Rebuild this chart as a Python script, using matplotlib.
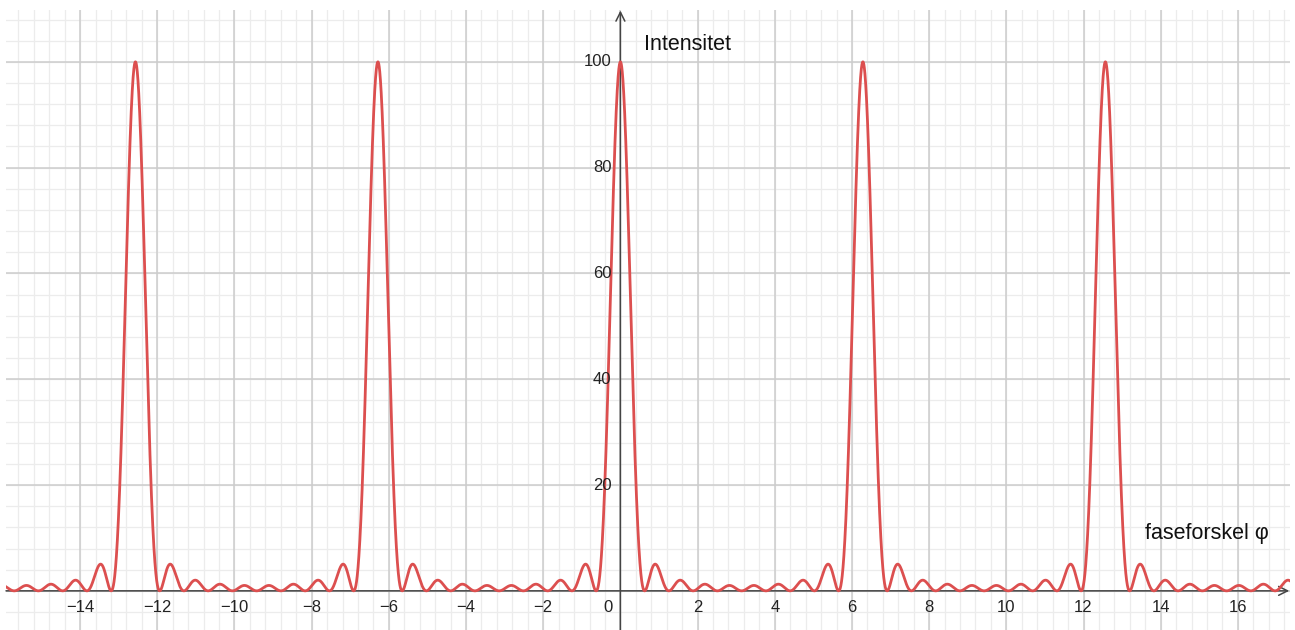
import matplotlib
matplotlib.use('Agg')
import matplotlib.pyplot as plt
import numpy as np

# grating with N slits: I = sin^2(N phi/2) / sin^2(phi/2), max N^2 = 100
N_SLITS = 10
x_ticks = [-14, -12, -10, -8, -6, -4, -2, 0, 2, 4, 6, 8, 10, 12, 14, 16]
y_ticks = [20, 40, 60, 80, 100]
x_label = "faseforskel φ"
y_label = "Intensitet"

x_min, x_max = -15.92, 17.35
y_min, y_max = -7.4, 109.8

phi = np.linspace(x_min, x_max, 40001)
num = np.sin(N_SLITS * phi / 2) ** 2
den = np.sin(phi / 2) ** 2
intensity = np.divide(num, den, out=np.full_like(phi, N_SLITS ** 2), where=den > 1e-12)

plt.rcParams["font.family"] = ["Liberation Sans", "DejaVu Sans"]
fig = plt.figure(figsize=(12.95, 6.3), dpi=100)
ax = fig.add_axes([6 / 1295, 0, 1284 / 1295, 620 / 630])
ax.set_xlim(x_min, x_max)
ax.set_ylim(y_min, y_max)
for s in ax.spines.values():
    s.set_visible(False)
ax.set_xticks([])
ax.set_yticks([])

# grid: minor and major
for xv in np.arange(-15.6, x_max, 0.4):
    ax.axvline(xv, color='#ececec', lw=0.9, zorder=0)
for yv in np.arange(-4, y_max, 4):
    ax.axhline(yv, color='#ececec', lw=0.9, zorder=0)
for xv in np.arange(-14, x_max, 2):
    ax.axvline(xv, color='#cccccc', lw=1.1, zorder=1)
for yv in np.arange(0, y_max, 20):
    ax.axhline(yv, color='#cccccc', lw=1.1, zorder=1)

# axes with arrows
ax.annotate('', xy=(x_max - 0.02, 0), xytext=(x_min, 0),
            arrowprops=dict(arrowstyle='->', color='#444444', lw=1.1,
                            mutation_scale=16, shrinkA=0, shrinkB=0), zorder=2)
ax.annotate('', xy=(0, y_max - 0.1), xytext=(0, y_min),
            arrowprops=dict(arrowstyle='->', color='#444444', lw=1.1,
                            mutation_scale=16, shrinkA=0, shrinkB=0), zorder=2)

ax.plot(phi, intensity, color='#dc4f4f', lw=2.0, zorder=3)

for xt in x_ticks:
    if xt == 0:
        ax.text(-0.33, -3.1, "0", ha='center', va='center', fontsize=12, color='#222222')
    else:
        ax.text(xt, -3.1, f"{xt}".replace('-', '\u2212'), ha='center', va='center',
                fontsize=12, color='#222222')
for yt in y_ticks:
    ax.text(-0.23, yt, str(yt), ha='right', va='center', fontsize=12, color='#222222')

ax.text(0.62, 103.3, y_label, ha='left', va='center', fontsize=15.5, color='#111111')
ax.text(13.6, 10.8, x_label, ha='left', va='center', fontsize=15.5, color='#111111')

fig.savefig("out.png", dpi=100, facecolor='white')
plt.close(fig)
